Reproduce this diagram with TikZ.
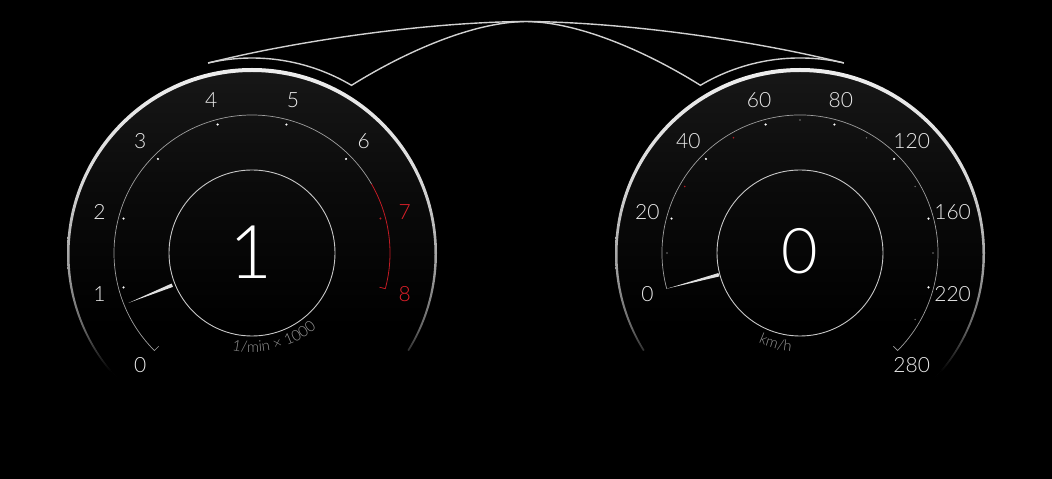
\documentclass[tikz,border=0pt]{standalone}
\usepackage{fontspec}
\setmainfont{Lato}
\newfontfamily\lightfont{Lato Light}
\usetikzlibrary{decorations.text}
\definecolor{redm}{RGB}{226,32,42}
\definecolor{labc}{RGB}{236,236,236}
\definecolor{unitgray}{RGB}{150,150,150}
\pgfdeclareverticalshading{ringshade}{100bp}{color(0bp)=(black); color(25bp)=(black); color(34bp)=(black); color(40bp)=(black!60!white); color(47bp)=(white!60!black); color(60bp)=(white!85!black); color(75bp)=(white!93!black); color(100bp)=(white!93!black)}
\pgfdeclareverticalshading{faintshade}{100bp}{color(0bp)=(black); color(25bp)=(black); color(30bp)=(black); color(40bp)=(black!60!white); color(75bp)=(black!60!white); color(100bp)=(black!60!white)}
\pgfdeclareverticalshading{discshade}{100bp}{color(0bp)=(black); color(25bp)=(black); color(40bp)=(black); color(58bp)=(black!96!white); color(75bp)=(black!91!white); color(100bp)=(black!91!white)}
\newcommand\unitstyle{\lightfont\fontsize{15}{15}\selectfont\color{unitgray}}
\begin{document}
\begin{tikzpicture}[x=1pt,y=1pt,
  lab/.style={text=labc, font=\lightfont\fontsize{21}{21}\selectfont, inner sep=0pt},
  redlab/.style={lab, text=redm},
  big/.style={text=white, inner sep=0pt},
  scalearc/.style={draw=white!62!black, line width=0.7pt},
  redarc/.style={draw=redm!85!black, line width=0.8pt},
  innerc/.style={draw=white!78!black, line width=0.9pt},
  needle/.style={fill=white!88!black},
  deco/.style={draw=white!82!black, line width=1.4pt, line join=miter},
  wdot/.style={fill=white},
  gdot/.style={fill=white!45!black},
  rdot/.style={fill=redm!80!black}]
\useasboundingbox (0,0) rectangle (1052,479);
\fill[black] (0,0) rectangle (1052,479);

% ---------- top decoration ----------
\coordinate (tipL) at (208.1,416);
\coordinate (vL) at (351.6,393.7);
\coordinate (top) at (526,457.5);
\coordinate (vR) at (700.4,393.7);
\coordinate (tipR) at (843.9,416);
\draw[deco] (tipL) .. controls (300,439) and (430,457) .. (top)
            .. controls (622,457) and (752,439) .. (tipR);
\draw[deco] (tipL) arc[start angle=103, end angle=59.3, radius=195pt]
            .. controls (400,424) and (470,457) .. (top)
            .. controls (582,457) and (652,424) .. (vR)
            arc[start angle=120.7, end angle=77, radius=195pt];

% ---------- left gauge (rpm) ----------
\begin{scope}[shift={(252,226)}]
  \shade[shading=discshade] (0,0) circle (184pt);
  \shade[shading=faintshade] (180:184.5pt) arc[start angle=180, end angle=232, radius=184.5pt]
        -- (232:183.8pt) arc[start angle=232, end angle=180, radius=183.8pt] -- cycle;
  \begin{scope}
    \clip (0,0) -- (232:260pt) arc[start angle=232, end angle=-32, radius=260pt] -- cycle;
    \shade[shading=ringshade, even odd rule] (0,0) circle (185pt) (0,-1.5) circle (182.5pt);
  \end{scope}
  \draw[scalearc] (225:132pt) -- (225:138pt) arc[start angle=225, end angle=30, radius=138pt];
  \draw[redarc] (30:138pt) arc[start angle=30, end angle=-15, radius=138pt] -- (-15:132pt);
  \draw[innerc] (0,0) circle (83pt);
  \foreach \a in {195,165,...,45} \fill[wdot] (\a:133pt) circle (1.2pt);
  \fill[rdot] (15:133pt) circle (1.1pt);
  \foreach \v in {0,...,6} \node[lab] (rpm\v) at ({225-30*\v}:158pt) {\v};
  \node[redlab] (rpm7) at (15:158pt) {7};
  \node[redlab] (rpm8) at (-15:158pt) {8};
  \fill[needle] (202:133pt) -- (203.2:86pt) -- (200.8:86pt) -- cycle;
  \node[big, font=\lightfont\fontsize{74}{74}\selectfont] (gear) at (-1,1) {1};
  \path[decorate, decoration={text along path, text align=center,
        text={|\unitstyle|1/min × 1000}}]
        (-125:99pt) arc[start angle=-125, end angle=-26, radius=99pt];
\end{scope}

% ---------- right gauge (speed) ----------
\begin{scope}[shift={(800,226)}]
  \shade[shading=discshade] (0,0) circle (184pt);
  \shade[shading=faintshade] (180:184.5pt) arc[start angle=180, end angle=212, radius=184.5pt]
        -- (212:183.8pt) arc[start angle=212, end angle=180, radius=183.8pt] -- cycle;
  \shade[shading=faintshade] (0:184.5pt) arc[start angle=0, end angle=-52, radius=184.5pt]
        -- (-52:183.8pt) arc[start angle=-52, end angle=0, radius=183.8pt] -- cycle;
  \begin{scope}
    \clip (0,0) -- (212:260pt) arc[start angle=212, end angle=-52, radius=260pt] -- cycle;
    \shade[shading=ringshade, even odd rule] (0,0) circle (185pt) (0,-1.5) circle (182.5pt);
  \end{scope}
  \draw[scalearc] (195:138pt) arc[start angle=195, end angle=-45, radius=138pt] -- (-45:132pt);
  \draw[innerc] (0,0) circle (83pt);
  \foreach \a in {165,135,...,-15} \fill[wdot] (\a:133pt) circle (1.2pt);
  \foreach \a in {180,90,60,30,0,-30} \fill[gdot] (\a:133pt) circle (0.8pt);
  \foreach \a in {150,120} \fill[rdot] (\a:133pt) circle (0.9pt);
  \foreach \a/\t in {195/0,165/20,135/40,105/60,75/80,45/120,15/160,-15/220,-45/280}
    \node[lab] (kmh\t) at (\a:158pt) {\t};
  \fill[needle] (195:138pt) -- (196.2:84pt) -- (193.8:84pt) -- cycle;
  \node[big, font=\lightfont\fontsize{63}{63}\selectfont] (speed) at (0,2) {0};
  \path[decorate, decoration={text along path, text align=center,
        text={|\unitstyle|km/h}}]
        (-150:99pt) arc[start angle=-150, end angle=-60, radius=99pt];
\end{scope}
\end{tikzpicture}
\end{document}
